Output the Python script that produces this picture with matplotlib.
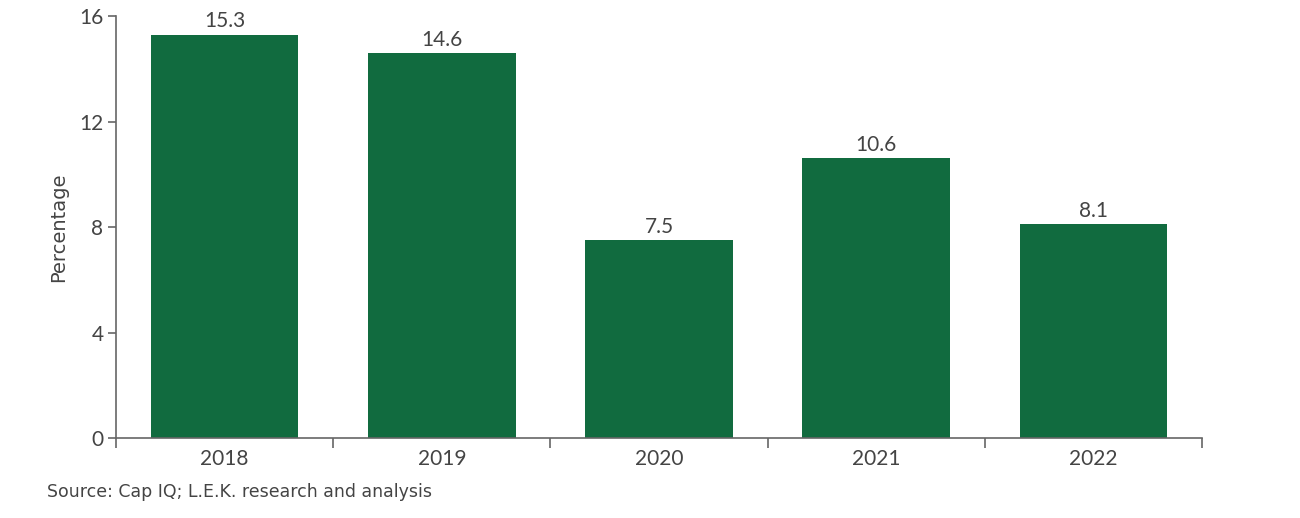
import matplotlib.pyplot as plt
from matplotlib.ticker import FixedLocator

# ── Data ─────────────────────────────────────────────
years  = ["2018", "2019", "2020", "2021", "2022"]
values = [15.3, 14.6, 7.5, 10.6, 8.1]
y_ticks = [0, 4, 8, 12, 16]

GREEN = "#116b3f"
TEXT  = "#444444"
AXIS  = "#666666"

plt.rcParams['font.family'] = ['Lato', 'DejaVu Sans']

fig = plt.figure(figsize=(13, 5.18), dpi=100)
ax = fig.add_axes([0.0892, 0.1544, 0.8354, 0.8146])

x = range(len(years))
bars = ax.bar(x, values, width=0.68, color=GREEN)

for xi, v in zip(x, values):
    ax.text(xi, v + 0.12, f"{v:.1f}", ha="center", va="bottom",
            fontsize=15, color=TEXT)

ax.set_xlim(-0.5, len(years) - 0.5)
ax.set_ylim(0, 16)
ax.set_yticks(y_ticks)
ax.set_yticklabels([str(t) for t in y_ticks])
ax.set_xticks(list(x))
ax.set_xticklabels(years)
ax.xaxis.set_minor_locator(FixedLocator([i - 0.5 for i in range(len(years) + 1)]))

ax.tick_params(axis="x", which="major", length=0, pad=8, labelsize=15, labelcolor=TEXT)
ax.tick_params(axis="x", which="minor", length=7, color=AXIS, width=1.2, direction="out")
ax.tick_params(axis="y", length=6, color=AXIS, width=1.2, pad=3, labelsize=15, labelcolor=TEXT)

for side in ["top", "right"]:
    ax.spines[side].set_visible(False)
for side in ["left", "bottom"]:
    ax.spines[side].set_color(AXIS)
    ax.spines[side].set_linewidth(1.2)

ax.set_ylabel("Percentage", fontsize=14, color=TEXT, labelpad=8,
              family=["DejaVu Sans"])

fig.text(0.036, 0.05, "Source: Cap IQ; L.E.K. research and analysis",
         fontsize=12.5, color=TEXT, ha="left", va="center",
         family=["DejaVu Sans"])

fig.savefig("out.png", dpi=100)
